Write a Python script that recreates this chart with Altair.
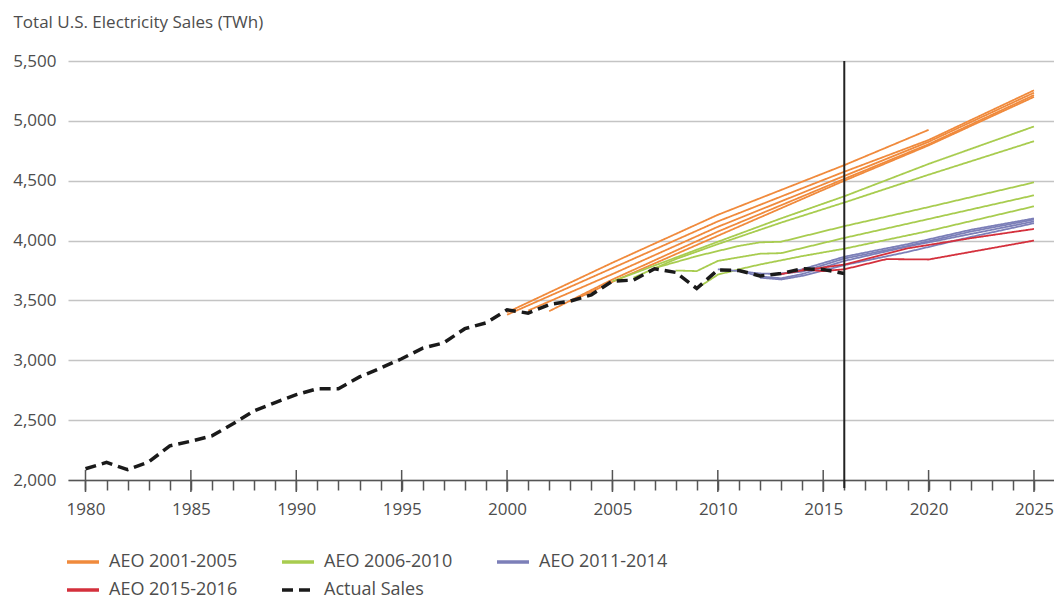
import altair as alt
import pandas as pd

FONT = "Open Sans"
TXT = "#4d4d4d"
AX = "#555555"

groups = ["AEO 2001-2005", "AEO 2006-2010", "AEO 2011-2014", "AEO 2015-2016", "Actual Sales"]
colors = ["#F08A3C", "#A8CC4F", "#7C7FB8", "#D4303C", "#1a1a1a"]
dashes = [[1, 0], [1, 0], [1, 0], [1, 0], [11, 6]]

# Actual sales (TWh)
actual_years = list(range(1980, 2017))
actual_sales = [2094, 2147, 2086, 2151, 2286, 2324, 2369, 2470, 2578, 2647,
                2713, 2762, 2763, 2861, 2935, 3013, 3101, 3146, 3264, 3312,
                3421, 3394, 3465, 3494, 3547, 3661, 3670, 3765, 3734, 3600,
                3755, 3750, 3705, 3725, 3765, 3759, 3725]

# AEO 2001-2005 projections
aeo2001_years = [2000, 2005, 2010, 2016, 2020]
aeo2001_vals = [3400, 3815, 4215, 4630, 4925]
aeo2002_years = [2000, 2005, 2010, 2016, 2020, 2025]
aeo2002_vals = [3380, 3770, 4160, 4575, 4840, 5255]
aeo2003_years = [2001, 2005, 2010, 2016, 2020, 2025]
aeo2003_vals = [3415, 3720, 4115, 4540, 4825, 5235]
aeo2004_years = [2002, 2005, 2010, 2016, 2020, 2025]
aeo2004_vals = [3410, 3675, 4075, 4515, 4805, 5215]
aeo2005_years = [2003, 2005, 2010, 2016, 2020, 2025]
aeo2005_vals = [3490, 3655, 4040, 4500, 4795, 5200]

# AEO 2006-2010 projections
aeo2006_years = [2005, 2006, 2010, 2013, 2016, 2020, 2025]
aeo2006_vals = [3660, 3725, 3990, 4185, 4370, 4640, 4953]
aeo2007_years = [2006, 2008, 2010, 2013, 2016, 2020, 2025]
aeo2007_vals = [3690, 3845, 3970, 4150, 4318, 4550, 4830]
aeo2008_years = [2007, 2009, 2011, 2012, 2013, 2016, 2020, 2025]
aeo2008_vals = [3770, 3870, 3955, 3985, 3990, 4120, 4280, 4486]
aeo2009_years = [2008, 2009, 2010, 2012, 2013, 2016, 2020, 2025]
aeo2009_vals = [3750, 3745, 3830, 3890, 3895, 4022, 4180, 4378]
aeo2010_years = [2009, 2010, 2011, 2012, 2014, 2016, 2020, 2025]
aeo2010_vals = [3600, 3715, 3760, 3800, 3870, 3932, 4080, 4286]

# AEO 2011-2014 projections
aeo2011_years = [2010, 2011, 2012, 2013, 2014, 2016, 2019, 2022, 2025]
aeo2011_vals = [3760, 3745, 3725, 3720, 3760, 3865, 3970, 4090, 4185]
aeo2012_years = [2011, 2012, 2013, 2014, 2016, 2019, 2022, 2025]
aeo2012_vals = [3750, 3700, 3685, 3720, 3830, 3950, 4055, 4160]
aeo2013_years = [2012, 2013, 2014, 2016, 2019, 2022, 2025]
aeo2013_vals = [3690, 3675, 3705, 3795, 3905, 4030, 4145]
aeo2014_years = [2013, 2014, 2016, 2019, 2022, 2025]
aeo2014_vals = [3725, 3740, 3850, 3955, 4075, 4175]

# AEO 2015-2016 projections
aeo2015_years = [2013, 2014, 2016, 2019, 2022, 2025]
aeo2015_vals = [3720, 3750, 3800, 3935, 4020, 4097]
aeo2016_years = [2014, 2015, 2016, 2018, 2020, 2025]
aeo2016_vals = [3760, 3745, 3760, 3845, 3842, 4000]

marker_year = [2016]
major_tick_years = list(range(1980, 2026, 5))
all_tick_years = list(range(1980, 2026))
y_ticks = [2000, 2500, 3000, 3500, 4000, 4500, 5000, 5500]

forecasts = [
    ("AEO2001", groups[0], aeo2001_years, aeo2001_vals),
    ("AEO2002", groups[0], aeo2002_years, aeo2002_vals),
    ("AEO2003", groups[0], aeo2003_years, aeo2003_vals),
    ("AEO2004", groups[0], aeo2004_years, aeo2004_vals),
    ("AEO2005", groups[0], aeo2005_years, aeo2005_vals),
    ("AEO2006", groups[1], aeo2006_years, aeo2006_vals),
    ("AEO2007", groups[1], aeo2007_years, aeo2007_vals),
    ("AEO2008", groups[1], aeo2008_years, aeo2008_vals),
    ("AEO2009", groups[1], aeo2009_years, aeo2009_vals),
    ("AEO2010", groups[1], aeo2010_years, aeo2010_vals),
    ("AEO2011", groups[2], aeo2011_years, aeo2011_vals),
    ("AEO2012", groups[2], aeo2012_years, aeo2012_vals),
    ("AEO2013", groups[2], aeo2013_years, aeo2013_vals),
    ("AEO2014", groups[2], aeo2014_years, aeo2014_vals),
    ("AEO2015", groups[3], aeo2015_years, aeo2015_vals),
    ("AEO2016", groups[3], aeo2016_years, aeo2016_vals),
]

rows = []
for name, grp, yrs, vals in forecasts:
    for yr, v in zip(yrs, vals):
        rows.append({"series": name, "group": grp, "year": yr, "value": v})
df_fc = pd.DataFrame(rows)
df_act = pd.DataFrame({"series": "Actual", "group": groups[4],
                       "year": actual_years, "value": actual_sales})
df_v = pd.DataFrame({"year": marker_year})
df_major = pd.DataFrame({"year": major_tick_years})

W, H = 986, 419
xscale = alt.Scale(domain=[1979.17, 2025.95], nice=False, zero=False)
yscale = alt.Scale(domain=[2000, 5500], nice=False, zero=False)
cscale = alt.Scale(domain=groups, range=colors)
dscale = alt.Scale(domain=groups, range=dashes)

legend = alt.Legend(
    title=None, orient="none", legendX=-3, legendY=483, direction="horizontal",
    columns=3, symbolType="stroke", symbolSize=1024, symbolStrokeWidth=3.5,
    labelFontSize=18, labelFont=FONT, labelColor=TXT, labelOffset=8,
    columnPadding=37, rowPadding=1, padding=0, labelLimit=300,
)

xaxis = alt.Axis(
    values=all_tick_years, format="d",
    labelExpr="datum.value % 5 === 0 ? datum.label : ''",
    grid=False, tickSize=10, tickColor=AX, tickWidth=1.5,
    domainColor=AX, domainWidth=1.5, labelFontSize=17, labelFont=FONT,
    labelColor=TXT, labelPadding=11, title=None, labelFlush=False,
    labelOverlap=False,
)
yaxis = alt.Axis(
    values=y_ticks, format=",.0f", grid=True, gridColor="#c4c4c4", gridWidth=1.5,
    domain=False, ticks=False, labelPadding=12, labelFontSize=17,
    labelFont=FONT, labelColor=TXT,
    title="Total U.S. Electricity Sales (TWh)", titleAngle=0,
    titleAlign="left", titleBaseline="alphabetic", titleX=-55, titleY=-34,
    titleFontSize=17, titleFontWeight="normal", titleFont=FONT,
    titleColor=TXT,
)

X = alt.X("year:Q", scale=xscale, axis=xaxis)
Y = alt.Y("value:Q", scale=yscale, axis=yaxis)
C = alt.Color("group:N", scale=cscale, legend=legend)
D = alt.StrokeDash("group:N", scale=dscale, legend=legend)

fc = alt.Chart(df_fc).mark_line(strokeWidth=1.8).encode(
    x=X, y=Y, color=C, strokeDash=D, detail="series:N",
)

act = alt.Chart(df_act).mark_line(strokeWidth=3.5).encode(
    x=X, y=Y, color=C, strokeDash=D,
)

vline = alt.Chart(df_v).mark_rule(color="#222222", strokeWidth=2).encode(
    x=X, y=alt.value(0), y2=alt.value(H + 8),
)

major = alt.Chart(df_major).mark_rule(color=AX, strokeWidth=1.5).encode(
    x=X, y=alt.value(H - 10), y2=alt.value(H + 12),
)

chart = alt.layer(fc, act, vline, major).properties(
    width=W, height=H,
    autosize=alt.AutoSizeParams(type="none"),
    padding={"left": 60, "top": 53, "right": 0, "bottom": 135},
    background="white",
).configure_view(stroke=None)

chart.save("out.html", embed_options={"renderer": "svg", "actions": False})
